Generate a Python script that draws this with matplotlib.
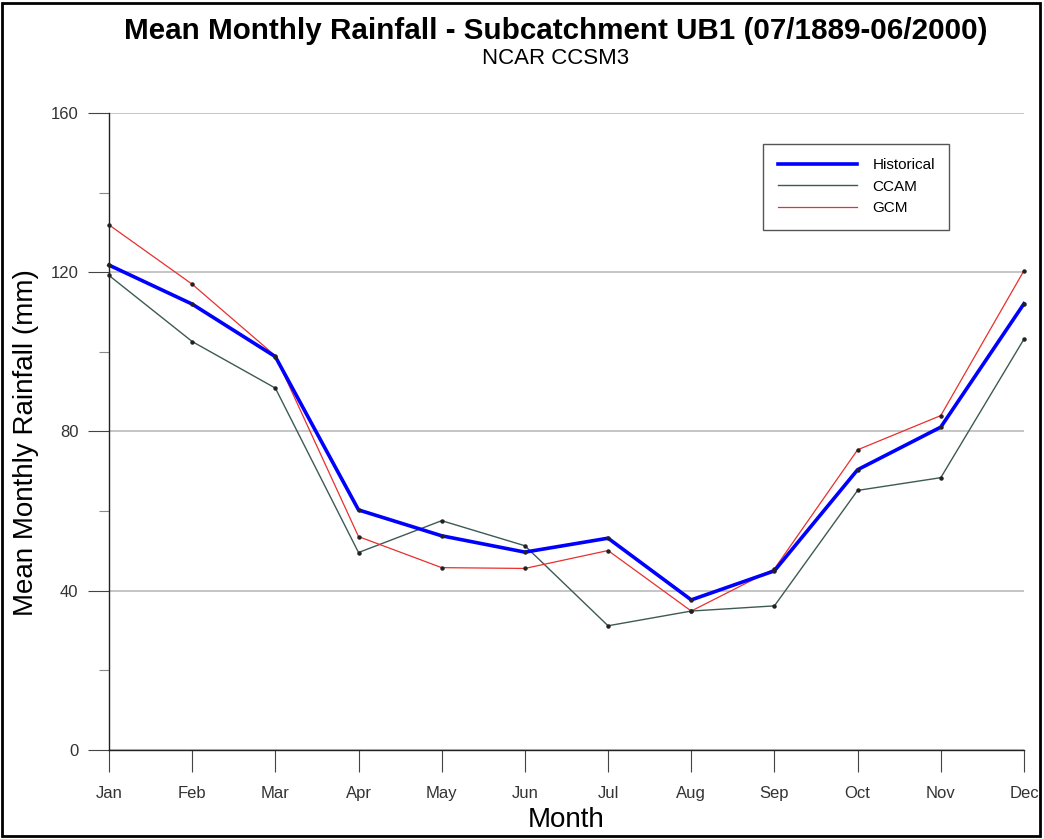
import matplotlib.pyplot as plt
from matplotlib.ticker import MultipleLocator
from matplotlib.patches import Rectangle

plt.rcParams['font.family'] = ['Liberation Sans', 'DejaVu Sans']

months = ["Jan", "Feb", "Mar", "Apr", "May", "Jun",
          "Jul", "Aug", "Sep", "Oct", "Nov", "Dec"]
historical = [121.8, 112.0, 98.8, 60.3, 53.8, 49.7, 53.2, 37.7, 45.0, 70.4, 81.1, 112.1]
ccam = [119.2, 102.6, 90.9, 49.6, 57.6, 51.3, 31.2, 34.9, 36.2, 65.2, 68.4, 103.2]
gcm = [131.9, 117.0, 99.0, 53.6, 45.8, 45.6, 50.1, 34.9, 45.5, 75.4, 84.0, 120.4]

fig = plt.figure(figsize=(10.44, 8.39), dpi=100)
ax = fig.add_axes([0.1044, 0.1061, 0.8764, 0.7592])

x = range(len(months))
ax.plot(x, historical, color="#0000ff", lw=2.6, label="Historical", clip_on=False, zorder=4)
ax.plot(x, ccam, color="#3d5a55", lw=1.0, label="CCAM", clip_on=False, zorder=3)
ax.plot(x, gcm, color="#e8302c", lw=0.9, label="GCM", clip_on=False, zorder=3)
# small point markers at each month
for s in (historical, ccam, gcm):
    ax.plot(x, s, ls="none", marker="o", ms=2.2, color="#222222", clip_on=False, zorder=5)

ax.set_xlim(0, 11)
ax.set_ylim(0, 160)
ax.set_xticks(list(x))
ax.set_xticklabels(months)
ax.yaxis.set_major_locator(MultipleLocator(40))
ax.yaxis.set_minor_locator(MultipleLocator(20))
ax.yaxis.grid(True, which="major", color="#b5b5b5", lw=1.1)
ax.set_axisbelow(True)

for side in ("top", "right"):
    ax.spines[side].set_visible(False)
for side in ("left", "bottom"):
    ax.spines[side].set_color("#222222")
    ax.spines[side].set_linewidth(1.0)

ax.tick_params(axis="x", direction="out", length=16, width=0.8, color="#444444",
               pad=10, labelsize=12, labelcolor="#333333")
ax.tick_params(axis="y", which="major", direction="out", length=15, width=0.8,
               color="#444444", pad=7, labelsize=12, labelcolor="#333333")
ax.tick_params(axis="y", which="minor", direction="out", length=7, width=0.8,
               color="#888888")

ax.set_xlabel("Month", fontsize=20, labelpad=4)
ax.set_ylabel("Mean Monthly Rainfall (mm)", fontsize=20)
ax.yaxis.set_label_coords(-0.077, 0.483)

leg = ax.legend(loc="upper left", bbox_to_anchor=(0.715, 0.952), borderaxespad=0,
                fontsize=11, handlelength=5.2, handletextpad=1.0, labelspacing=0.5,
                borderpad=0.95, fancybox=False, framealpha=1)
leg.get_frame().set_edgecolor("#555555")
leg.get_frame().set_linewidth(1.0)

fig.text(0.532, 0.963, "Mean Monthly Rainfall - Subcatchment UB1 (07/1889-06/2000)",
         ha="center", va="center", fontsize=21.3, fontweight="bold")
fig.text(0.532, 0.930, "NCAR CCSM3", ha="center", va="center", fontsize=16)

# outer frame round the figure
fig.patches.append(Rectangle((0.002, 0.003), 0.994, 0.993, transform=fig.transFigure,
                             fill=False, edgecolor="black", lw=2))

fig.savefig("out.png", dpi=100)
